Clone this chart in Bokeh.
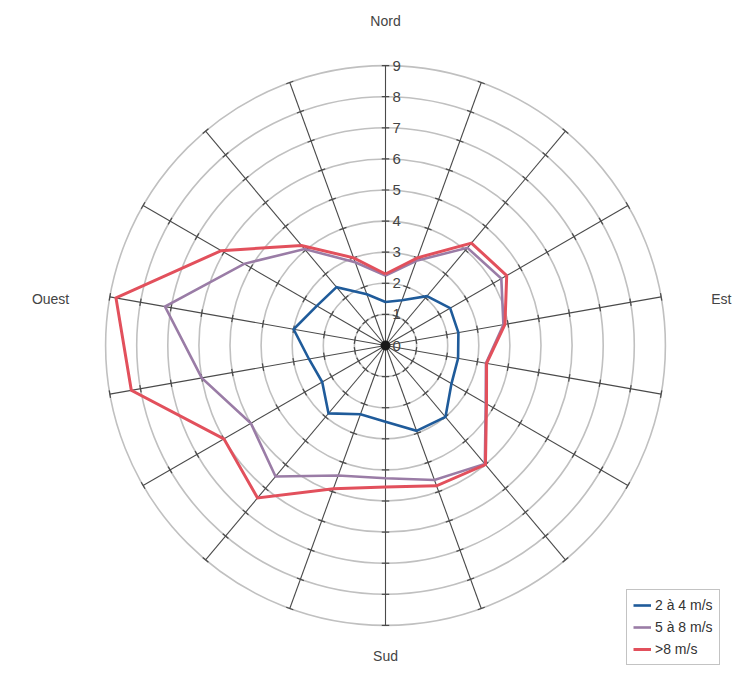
import numpy as np
from bokeh.plotting import figure
from bokeh.models import Range1d, Legend, LegendItem, ColumnDataSource
from bokeh.core.properties import value
from bokeh.embed import file_html
from bokeh.resources import INLINE

# ---- data ----
directions_deg = [0, 20, 40, 60, 80, 100, 120, 140, 160, 180, 200, 220, 240, 260, 280, 300, 320, 340]
speed_2_4 = [1.4, 1.55, 2.07, 2.4, 2.38, 2.37, 2.45, 3.0, 2.92, 2.45, 2.35, 2.85, 2.35, 2.5, 3.0, 2.55, 2.45, 1.75]
speed_5_8 = [2.25, 2.9, 4.1, 4.3, 3.85, 3.28, 3.72, 4.97, 4.6, 4.27, 4.45, 5.5, 5.0, 6.0, 7.2, 5.25, 4.05, 2.85]
speed_gt8 = [2.3, 3.0, 4.3, 4.5, 3.9, 3.3, 3.75, 5.0, 4.8, 4.55, 4.9, 6.4, 6.0, 8.3, 8.8, 6.1, 4.2, 3.0]
series_labels = ["2 à 4 m/s", "5 à 8 m/s", ">8 m/s"]
series_colors = ["#1f5b9a", "#9a7ca6", "#e2505c"]
radial_ticks = [0, 1, 2, 3, 4, 5, 6, 7, 8, 9]
compass_labels = ["Nord", "Est", "Sud", "Ouest"]

FONT = "Liberation Sans"
W, H = 736, 666
PX = 31.1  # pixels per unit
cx_px, cy_px = 385, 345

p = figure(width=W, height=H, output_backend="svg", toolbar_location=None,
           x_range=Range1d(-cx_px / PX, (W - cx_px) / PX),
           y_range=Range1d(-(H - cy_px) / PX, cy_px / PX),
           min_border=0)
p.axis.visible = False
p.grid.visible = False
p.outline_line_color = None
p.background_fill_color = "white"
p.border_fill_color = "white"

rmax = max(radial_ticks)
theta = np.radians(np.array(directions_deg, dtype=float))

# concentric circles
p.circle(x=[0] * (len(radial_ticks) - 1), y=[0] * (len(radial_ticks) - 1),
         radius=radial_ticks[1:], fill_color=None, line_color="#c0c0c0", line_width=1.6)

# spokes
p.segment(x0=np.zeros(len(theta)), y0=np.zeros(len(theta)),
          x1=rmax * np.sin(theta), y1=rmax * np.cos(theta),
          line_color="#4a4a4a", line_width=1.1)

# spoke ticks at each circle crossing
half = 0.12
tx0, ty0, tx1, ty1 = [], [], [], []
for t in theta:
    ux, uy = np.sin(t), np.cos(t)
    nx, ny = np.cos(t), -np.sin(t)
    for r in radial_ticks[1:]:
        tx0.append(r * ux - half * nx)
        ty0.append(r * uy - half * ny)
        tx1.append(r * ux + half * nx)
        ty1.append(r * uy + half * ny)
p.segment(x0=tx0, y0=ty0, x1=tx1, y1=ty1, line_color="#4a4a4a", line_width=1.2)

p.scatter(x=[0], y=[0], size=9, color="#1a1a1a")

# radial labels along north axis
p.text(x=[0.36] * len(radial_ticks), y=radial_ticks, text=[str(v) for v in radial_ticks],
       text_font=value(FONT), text_font_size="15px", text_color="#444444",
       text_align="center", text_baseline="middle")

# compass labels
comp_x = [0, 10.8, 0, -10.77]
comp_y = [10.45, 1.51, -9.98, 1.51]
p.text(x=comp_x, y=comp_y, text=compass_labels, text_font=value(FONT),
       text_font_size="14px", text_color="#444444",
       text_align="center", text_baseline="middle")

# series
renderers = []
for vals, col, lw in zip([speed_2_4, speed_5_8, speed_gt8], series_colors, [2.6, 2.6, 3.0]):
    rr = np.array(vals + vals[:1])
    tt = np.concatenate([theta, theta[:1]])
    src = ColumnDataSource(dict(x=rr * np.sin(tt), y=rr * np.cos(tt)))
    renderers.append(p.line("x", "y", source=src, line_color=col, line_width=lw,
                            line_join="miter"))

legend = Legend(items=[LegendItem(label=lab, renderers=[r]) for lab, r in zip(series_labels, renderers)],
                location=(626, 1), label_text_font=FONT, label_text_font_size="14px",
                label_text_color="#333333", border_line_color="#888888", border_line_width=1,
                background_fill_color="white", background_fill_alpha=1.0,
                glyph_width=18, glyph_height=18, label_height=18, spacing=4,
                padding=6, margin=0, label_standoff=4)
p.add_layout(legend)

open("out.html", "w").write(file_html(p, INLINE))
